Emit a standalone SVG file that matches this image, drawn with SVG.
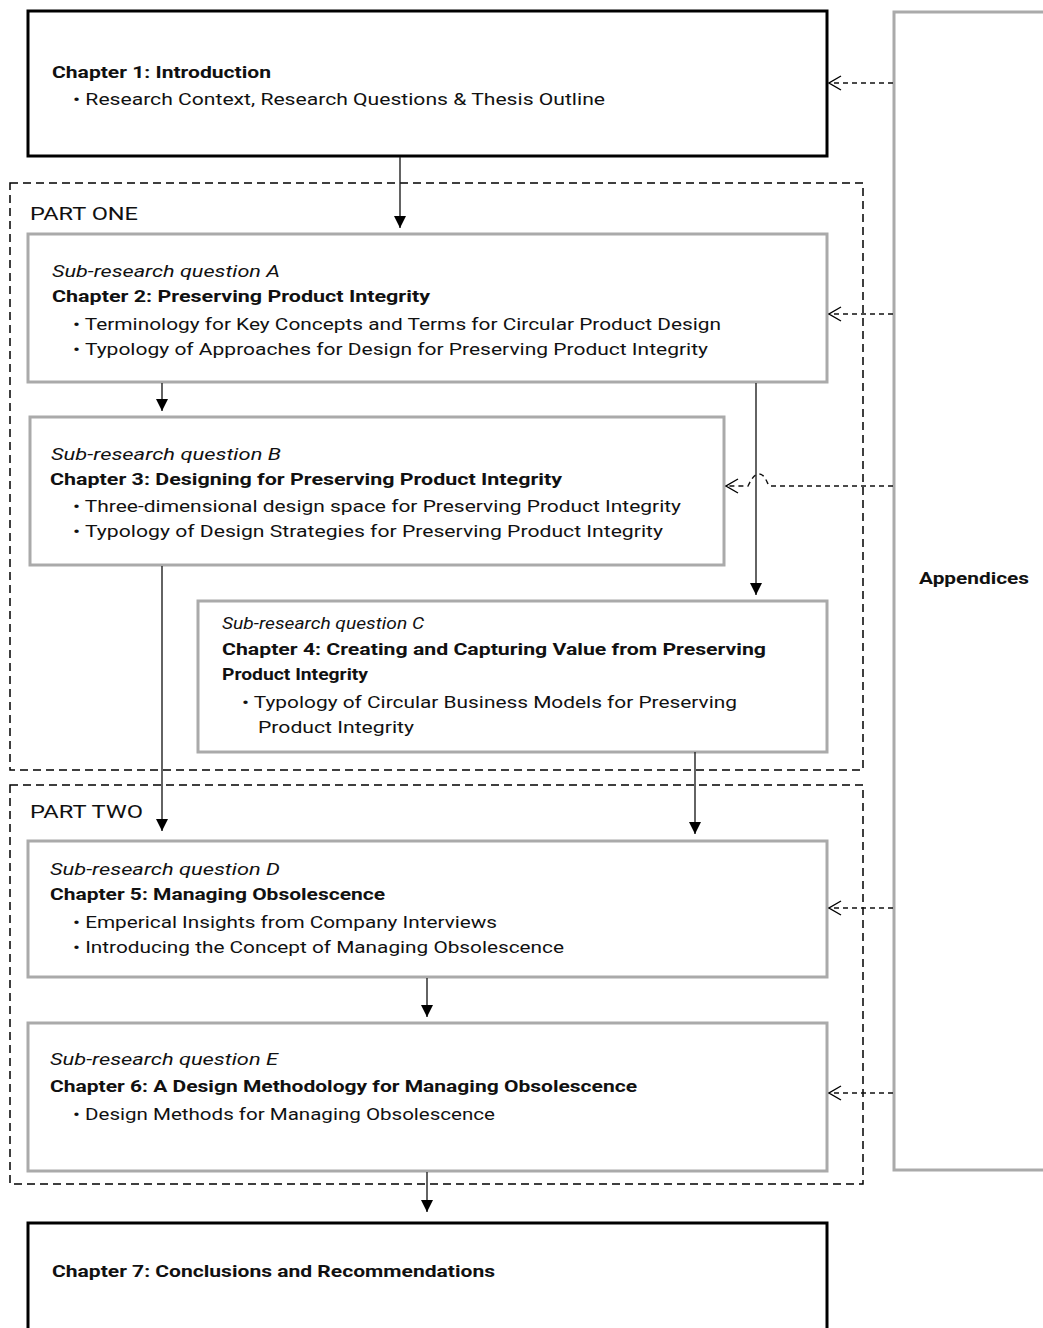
<svg xmlns="http://www.w3.org/2000/svg" width="1043" height="1328" viewBox="0 0 1043 1328">
<style>
text{font-family:"Roboto","Liberation Sans",sans-serif;font-size:17px;fill:#111;}
.b{font-weight:bold;}
.i{font-style:italic;}
.part{font-size:19px;}
.blk{fill:#fff;stroke:#000;stroke-width:3;}
.gry{fill:#fff;stroke:#aaa;stroke-width:3;}
.grp{fill:none;stroke:#000;stroke-width:1.5;stroke-dasharray:8,5;}
.solid{fill:none;stroke:#222;stroke-width:1.4;marker-end:url(#tri);}
.dash{fill:none;stroke:#111;stroke-width:1.4;stroke-dasharray:5,4;marker-end:url(#open);}
</style>
<defs>
<marker id="tri" viewBox="0 0 10 10" refX="10" refY="5" markerWidth="12" markerHeight="12" markerUnits="userSpaceOnUse" orient="auto">
<path d="M0,0 L10,5 L0,10 z" fill="#000"/>
</marker>
<marker id="open" viewBox="0 0 14 16" refX="13" refY="8" markerWidth="14" markerHeight="16" markerUnits="userSpaceOnUse" orient="auto">
<path d="M1,1 L13,8 L1,15" fill="none" stroke="#000" stroke-width="1.4"/>
</marker>
</defs>

<g id="part-one">
<rect class="grp" x="10" y="183" width="853" height="587"/>
<text class="part" x="30" y="220" textLength="108" lengthAdjust="spacingAndGlyphs">PART ONE</text>
</g>
<g id="part-two">
<rect class="grp" x="10" y="785" width="853" height="399"/>
<text class="part" x="30" y="818" textLength="113" lengthAdjust="spacingAndGlyphs">PART TWO</text>
</g>

<g id="appendices">
<rect class="gry" x="894" y="12" width="170" height="1158"/>
<text class="b" x="919" y="584" textLength="110" lengthAdjust="spacingAndGlyphs">Appendices</text>
</g>

<g id="chapter1">
<rect class="blk" x="28" y="11" width="799" height="145"/>
<text class="b" x="52" y="78" textLength="219" lengthAdjust="spacingAndGlyphs">Chapter 1: Introduction</text>
<text x="73" y="105" textLength="532" lengthAdjust="spacingAndGlyphs">• Research Context, Research Questions &amp; Thesis Outline</text>
</g>

<g id="chapter2">
<rect class="gry" x="28" y="234" width="799" height="148"/>
<text class="i" x="52" y="277" textLength="228" lengthAdjust="spacingAndGlyphs">Sub-research question A</text>
<text class="b" x="52" y="302" textLength="378" lengthAdjust="spacingAndGlyphs">Chapter 2: Preserving Product Integrity</text>
<text x="73" y="330" textLength="648" lengthAdjust="spacingAndGlyphs">• Terminology for Key Concepts and Terms for Circular Product Design</text>
<text x="73" y="355" textLength="635" lengthAdjust="spacingAndGlyphs">• Typology of Approaches for Design for Preserving Product Integrity</text>
</g>

<g id="chapter3">
<rect class="gry" x="30" y="417" width="694" height="148"/>
<text class="i" x="51" y="460" textLength="230" lengthAdjust="spacingAndGlyphs">Sub-research question B</text>
<text class="b" x="50" y="485" textLength="512" lengthAdjust="spacingAndGlyphs">Chapter 3: Designing for Preserving Product Integrity</text>
<text x="73" y="512" textLength="608" lengthAdjust="spacingAndGlyphs">• Three-dimensional design space for Preserving Product Integrity</text>
<text x="73" y="537" textLength="590" lengthAdjust="spacingAndGlyphs">• Typology of Design Strategies for Preserving Product Integrity</text>
</g>

<g id="chapter4">
<rect class="gry" x="198" y="601" width="629" height="151"/>
<text class="i" x="222" y="629" textLength="202" lengthAdjust="spacingAndGlyphs">Sub-research question C</text>
<text class="b" x="222" y="655" textLength="544" lengthAdjust="spacingAndGlyphs">Chapter 4: Creating and Capturing Value from Preserving</text>
<text class="b" x="222" y="680" textLength="146" lengthAdjust="spacingAndGlyphs">Product Integrity</text>
<text x="242" y="708" textLength="495" lengthAdjust="spacingAndGlyphs">• Typology of Circular Business Models for Preserving</text>
<text x="258" y="733" textLength="156" lengthAdjust="spacingAndGlyphs">Product Integrity</text>
</g>

<g id="chapter5">
<rect class="gry" x="28" y="841" width="799" height="136"/>
<text class="i" x="50" y="875" textLength="230" lengthAdjust="spacingAndGlyphs">Sub-research question D</text>
<text class="b" x="50" y="900" textLength="335" lengthAdjust="spacingAndGlyphs">Chapter 5: Managing Obsolescence</text>
<text x="73" y="928" textLength="424" lengthAdjust="spacingAndGlyphs">• Emperical Insights from Company Interviews</text>
<text x="73" y="953" textLength="491" lengthAdjust="spacingAndGlyphs">• Introducing the Concept of Managing Obsolescence</text>
</g>

<g id="chapter6">
<rect class="gry" x="28" y="1023" width="799" height="148"/>
<text class="i" x="50" y="1065" textLength="228" lengthAdjust="spacingAndGlyphs">Sub-research question E</text>
<text class="b" x="50" y="1092" textLength="587" lengthAdjust="spacingAndGlyphs">Chapter 6: A Design Methodology for Managing Obsolescence</text>
<text x="73" y="1120" textLength="422" lengthAdjust="spacingAndGlyphs">• Design Methods for Managing Obsolescence</text>
</g>

<g id="chapter7">
<rect class="blk" x="28" y="1223" width="799" height="130"/>
<text class="b" x="52" y="1277" textLength="443" lengthAdjust="spacingAndGlyphs">Chapter 7: Conclusions and Recommendations</text>
</g>

<g id="connectors">
<path class="solid" d="M400,157 V228"/>
<path class="solid" d="M162,383 V411"/>
<path class="solid" d="M162,566 V831"/>
<path class="solid" d="M756,383 V595"/>
<path class="solid" d="M695,752 V834"/>
<path class="solid" d="M427,978 V1017"/>
<path class="solid" d="M427,1172 V1212"/>
<path class="dash" d="M893,83 H829"/>
<path class="dash" d="M893,314 H829"/>
<path class="dash" d="M893,486 H769 C766,480 764,474 759,474 C754,474 751,480 748,486 H726"/>
<path class="dash" d="M893,908 H829"/>
<path class="dash" d="M893,1093 H829"/>
</g>
</svg>
